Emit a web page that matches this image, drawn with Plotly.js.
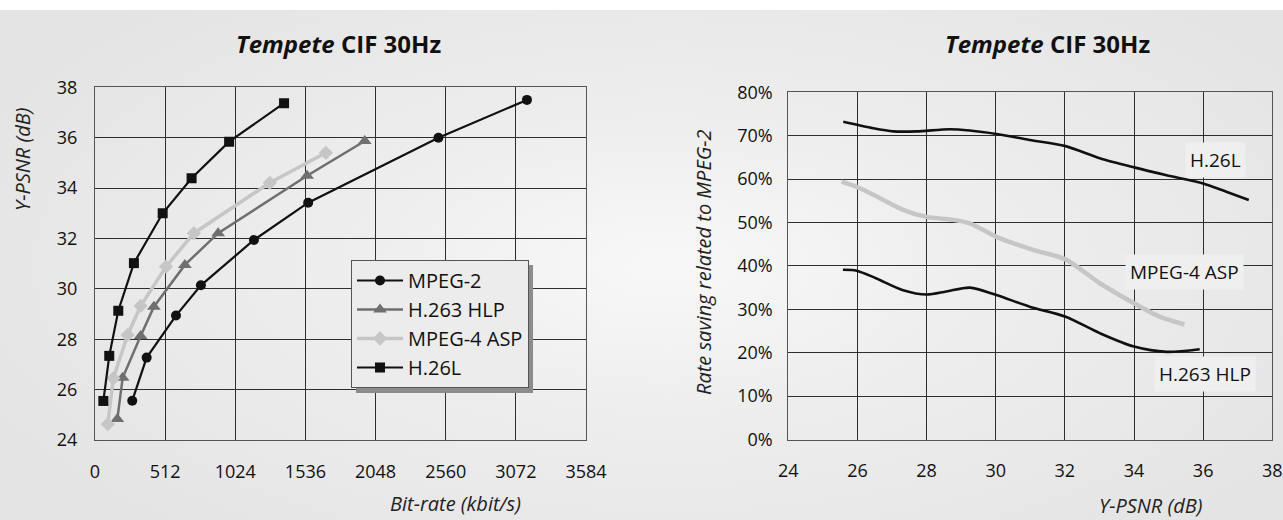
<!DOCTYPE html>
<html>
<head>
<meta charset="utf-8">
<script src="https://cdn.plot.ly/plotly-3.0.1.min.js"></script>
<style>
  html, body { margin: 0; padding: 0; }
  body {
    width: 1283px; height: 520px; overflow: hidden;
    background: #ffffff;
  }
  #bg {
    position: absolute; left: 0; top: 10px; width: 1283px; height: 510px;
    background: radial-gradient(ellipse 60% 70% at 52% 50%, #f8f8f8 0%, #eeeeee 40%, #e4e4e4 100%);
  }
  #chart { position: absolute; left: 0; top: 0; width: 1283px; height: 520px; }
</style>
</head>
<body>
<div id="bg"></div>
<div id="chart"></div>
<script>
// ---------- Left chart: rate-distortion curves ----------
const seriesNames = ['MPEG-2', 'H.263 HLP', 'MPEG-4 ASP', 'H.26L'];

const mpeg2Rate = [272, 377, 591, 773, 1160, 1556, 2507, 3153];
const mpeg2Psnr = [25.56, 27.27, 28.94, 30.14, 31.94, 33.42, 36.0, 37.5];

const h263Rate = [163, 202, 333, 430, 656, 899, 1548, 1969];
const h263Psnr = [24.83, 26.47, 28.13, 29.29, 30.95, 32.21, 34.49, 35.87];

const mpeg4Rate = [93, 134, 238, 333, 518, 722, 1276, 1685];
const mpeg4Psnr = [24.63, 26.45, 28.17, 29.32, 30.88, 32.21, 34.21, 35.4];

const h26lRate = [61, 104, 170, 284, 494, 705, 979, 1380];
const h26lPsnr = [25.55, 27.34, 29.13, 31.02, 33.0, 34.39, 35.84, 37.37];

const rateTicks = [0, 512, 1024, 1536, 2048, 2560, 3072, 3584];
const psnrTicksLeft = [24, 26, 28, 30, 32, 34, 36, 38];

// ---------- Right chart: rate saving relative to MPEG-2 ----------
const h26lSavePsnr = [25.59, 26.46, 27.04, 27.71, 28.67, 29.25, 30.02, 30.98, 32.02, 33.01, 34.0, 34.94, 36.0, 36.67, 37.32];
const h26lSave     = [73.2, 71.7, 71.0, 71.0, 71.5, 71.2, 70.4, 69.0, 67.6, 64.8, 62.7, 60.9, 59.0, 57.1, 55.2];

const mpeg4SavePsnr = [25.54, 26.07, 26.65, 27.32, 28.0, 28.77, 29.25, 30.02, 31.08, 32.02, 33.01, 34.0, 34.74, 35.46];
const mpeg4Save     = [59.4, 57.9, 55.6, 52.9, 51.3, 50.6, 49.8, 46.7, 43.7, 41.5, 36.0, 31.4, 28.3, 26.5];

const h263SavePsnr = [25.58, 25.98, 26.55, 27.32, 28.0, 28.57, 29.25, 30.02, 30.98, 32.02, 33.01, 34.0, 34.94, 35.9];
const h263Save     = [39.1, 38.9, 37.1, 34.4, 33.4, 34.1, 35.0, 33.3, 30.6, 28.3, 24.5, 21.4, 20.2, 20.8];

const psnrTicksRight = [24, 26, 28, 30, 32, 34, 36, 38];
const saveTicks = [0, 10, 20, 30, 40, 50, 60, 70, 80];

// ---------- Layout helpers (pixel -> paper) ----------
const W = 1283, H = 520;
const px = v => v / W;
const py = v => 1 - v / H;

const FONT = '"Open Sans", "Noto Sans", sans-serif';
const gridCol = '#2e2e2e';

const blk = '#111111', mid = '#6f6f6f', light = '#c6c6c6';

const traces = [
  { x: mpeg2Rate, y: mpeg2Psnr, name: seriesNames[0], type: 'scatter', mode: 'lines+markers',
    line: { color: blk, width: 2.2 }, marker: { symbol: 'circle', size: 10, color: blk },
    xaxis: 'x', yaxis: 'y', legendgroup: 'a' },
  { x: h263Rate, y: h263Psnr, name: seriesNames[1], type: 'scatter', mode: 'lines+markers',
    line: { color: mid, width: 2.5 }, marker: { symbol: 'triangle-up', size: 12, color: mid },
    xaxis: 'x', yaxis: 'y', legendgroup: 'b' },
  { x: mpeg4Rate, y: mpeg4Psnr, name: seriesNames[2], type: 'scatter', mode: 'lines+markers',
    line: { color: light, width: 3.5 }, marker: { symbol: 'diamond', size: 11, color: light },
    xaxis: 'x', yaxis: 'y', legendgroup: 'c' },
  { x: h26lRate, y: h26lPsnr, name: seriesNames[3], type: 'scatter', mode: 'lines+markers',
    line: { color: blk, width: 2.2 }, marker: { symbol: 'square', size: 10, color: blk },
    xaxis: 'x', yaxis: 'y', legendgroup: 'd' },

  { x: h26lSavePsnr, y: h26lSave.map(v => v / 100), name: 'H.26L', type: 'scatter', mode: 'lines',
    line: { color: blk, width: 2.6, shape: 'spline', smoothing: 0.8 }, showlegend: false,
    xaxis: 'x2', yaxis: 'y2' },
  { x: mpeg4SavePsnr, y: mpeg4Save.map(v => v / 100), name: 'MPEG-4 ASP', type: 'scatter', mode: 'lines',
    line: { color: light, width: 4.5, shape: 'spline', smoothing: 0.8 }, showlegend: false,
    xaxis: 'x2', yaxis: 'y2' },
  { x: h263SavePsnr, y: h263Save.map(v => v / 100), name: 'H.263 HLP', type: 'scatter', mode: 'lines',
    line: { color: blk, width: 2.6, shape: 'spline', smoothing: 0.8 }, showlegend: false,
    xaxis: 'x2', yaxis: 'y2' }
];

const axisCommon = {
  showgrid: true, gridcolor: gridCol, gridwidth: 1,
  showline: true, linecolor: '#555', linewidth: 1, mirror: true,
  zeroline: false, ticks: '',
  tickfont: { family: FONT, size: 18, color: '#111' }
};

const annFont = { family: FONT, size: 19, color: '#111' };
const titleFontL = { family: FONT, size: 20, color: '#222' };

const layout = {
  width: W, height: H,
  margin: { l: 0, r: 0, t: 0, b: 0 },
  paper_bgcolor: 'rgba(0,0,0,0)',
  plot_bgcolor: 'rgba(0,0,0,0)',
  showlegend: true,
  font: { family: FONT, color: '#111' },
  xaxis: Object.assign({}, axisCommon, {
    domain: [px(95), px(586)], range: [0, 3584],
    tickvals: rateTicks, ticktext: rateTicks.map(String),
    anchor: 'y', ticklabelstandoff: 15
  }),
  yaxis: Object.assign({}, axisCommon, {
    domain: [py(440), py(87.3)], range: [24, 38],
    tickvals: psnrTicksLeft, anchor: 'x', ticklabelstandoff: 13
  }),
  xaxis2: Object.assign({}, axisCommon, {
    domain: [px(788.3), px(1272.3)], range: [24, 38],
    tickvals: psnrTicksRight, anchor: 'y2', ticklabelstandoff: 15
  }),
  yaxis2: Object.assign({}, axisCommon, {
    domain: [py(439.5), py(92.3)], range: [0, 0.8],
    tickvals: saveTicks.map(v => v / 100), ticktext: saveTicks.map(v => v + '%'),
    anchor: 'x2', ticklabelstandoff: 11
  }),
  legend: {
    x: px(351), y: py(260), xanchor: 'left', yanchor: 'top',
    bgcolor: '#ececec', bordercolor: '#555', borderwidth: 1,
    font: { family: FONT, size: 20, color: '#111' },
    traceorder: 'grouped', tracegroupgap: 0,
    itemwidth: 46
  },
  shapes: [
    { type: 'rect', xref: 'paper', yref: 'paper',
      x0: px(356), x1: px(533), y0: py(393), y1: py(265),
      fillcolor: '#8c8c8c', line: { width: 0 }, layer: 'above' }
  ],
  annotations: [
    { xref: 'paper', yref: 'paper', x: px(338), y: py(43), xanchor: 'center', yanchor: 'middle',
      text: '<b><i>Tempete</i> CIF 30Hz</b>', showarrow: false,
      font: { family: FONT, size: 24, color: '#111' } },
    { xref: 'paper', yref: 'paper', x: px(1047), y: py(43), xanchor: 'center', yanchor: 'middle',
      text: '<b><i>Tempete</i> CIF 30Hz</b>', showarrow: false,
      font: { family: FONT, size: 24, color: '#111' } },
    { xref: 'paper', yref: 'paper', x: px(22), y: py(160), xanchor: 'center', yanchor: 'middle',
      text: '<i>Y-PSNR (dB)</i>', textangle: -90, showarrow: false, font: titleFontL },
    { xref: 'paper', yref: 'paper', x: px(455), y: py(503), xanchor: 'center', yanchor: 'middle',
      text: '<i>Bit-rate (kbit/s)</i>', showarrow: false, font: titleFontL },
    { xref: 'paper', yref: 'paper', x: px(703), y: py(262), xanchor: 'center', yanchor: 'middle',
      text: '<i>Rate saving related to MPEG-2</i>', textangle: -90, showarrow: false, font: titleFontL },
    { xref: 'paper', yref: 'paper', x: px(1150), y: py(505), xanchor: 'center', yanchor: 'middle',
      text: '<i>Y-PSNR (dB)</i>', showarrow: false, font: titleFontL },
    { xref: 'paper', yref: 'paper', x: px(1215), y: py(160), xanchor: 'center', yanchor: 'middle',
      text: 'H.26L', showarrow: false, font: annFont, bgcolor: '#efefef', borderpad: 4 },
    { xref: 'paper', yref: 'paper', x: px(1184), y: py(272), xanchor: 'center', yanchor: 'middle',
      text: 'MPEG-4 ASP', showarrow: false, font: annFont, bgcolor: '#efefef', borderpad: 4 },
    { xref: 'paper', yref: 'paper', x: px(1205), y: py(374), xanchor: 'center', yanchor: 'middle',
      text: 'H.263 HLP', showarrow: false, font: annFont, bgcolor: '#efefef', borderpad: 4 }
  ]
};

Plotly.newPlot('chart', traces, layout, { displayModeBar: false, staticPlot: true });
</script>
</body>
</html>
